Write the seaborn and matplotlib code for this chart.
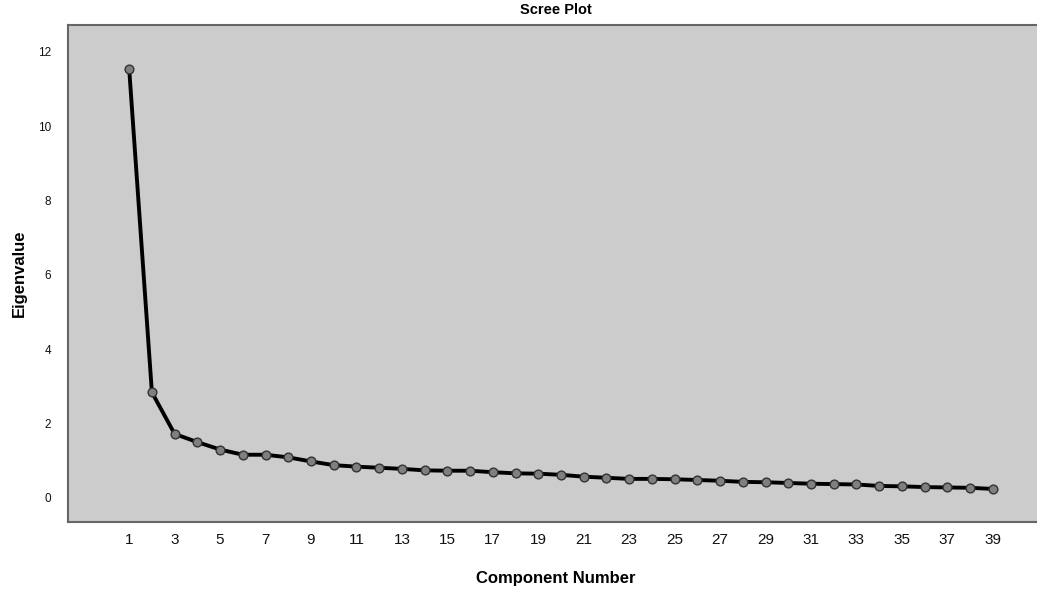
import matplotlib
matplotlib.use("Agg")
import matplotlib.pyplot as plt
import seaborn as sns
import pandas as pd

components = list(range(1, 40))
eigenvalues = [11.55, 2.84, 1.72, 1.50, 1.30, 1.16, 1.16, 1.09, 0.98, 0.88,
               0.84, 0.81, 0.78, 0.74, 0.73, 0.73, 0.69, 0.66, 0.65, 0.62,
               0.57, 0.54, 0.51, 0.51, 0.50, 0.48, 0.46, 0.43, 0.42, 0.40,
               0.38, 0.37, 0.36, 0.32, 0.31, 0.29, 0.28, 0.27, 0.24]
x_ticks = list(range(1, 40, 2))
y_ticks = [0, 2, 4, 6, 8, 10, 12]

sns.set_theme(style="white")
plt.rcParams['font.family'] = ['Liberation Sans', 'DejaVu Sans']

df = pd.DataFrame({"Component Number": components, "Eigenvalue": eigenvalues})

fig = plt.figure(figsize=(10.37, 6), dpi=100)
ax = fig.add_axes([0.0656, 0.13, 0.94, 0.828])
ax.set_facecolor("#cccccc")

sns.lineplot(data=df, x="Component Number", y="Eigenvalue", ax=ax,
             color="black", linewidth=2.8, marker="o", markersize=6.3,
             markerfacecolor="#7f7f7f", markeredgecolor="#333333",
             markeredgewidth=1.0)

ax.set_xlim(-1.69, 41.2)
ax.set_ylim(-0.65, 12.72)
ax.set_xticks(x_ticks)
ax.set_yticks(y_ticks)
ax.tick_params(axis="x", labelsize=11, length=0, pad=8, colors="#111111")
ax.tick_params(axis="y", labelsize=8.5, length=0, pad=12, colors="#111111")

for side in ["left", "bottom", "top"]:
    ax.spines[side].set_color("#666666")
    ax.spines[side].set_linewidth(1.5)
ax.spines["right"].set_visible(False)

ax.set_xlabel("Component Number", fontsize=12, fontweight="bold", labelpad=17, color="black")
ax.set_ylabel("Eigenvalue", fontsize=12, fontweight="bold", labelpad=8, color="black")
ax.set_title("Scree Plot", fontsize=10.5, fontweight="bold", pad=8, color="black")

fig.savefig("out.png", dpi=100)
